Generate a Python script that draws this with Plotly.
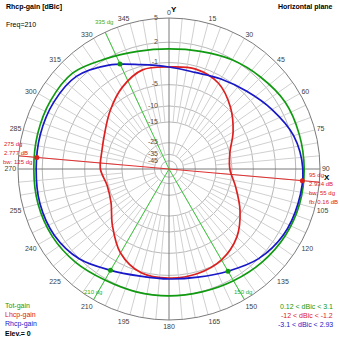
import numpy as np
import plotly.graph_objects as go

# ---- data (dBic) ----
theta = list(range(0, 360, 15))
tot_gain = [1.06, 1.3, 1.9, 2.4, 2.95, 3.05, 3.1, 3.1, 2.95, 2.65, 2.3, 2.05,
            2.0, 2.05, 2.2, 2.7, 3.05, 3.15, 3.1, 3.2, 3.3, 3.2, 2.05, 1.3]
lhcp_gain = [-1.73, -1.5, -2.25, -4.46, -7.24, -10.0, -10.6, -8.44, -5.48, -2.77, -1.24, -0.67,
             -0.59, -0.83, -2.6, -5.9, -8.95, -9.73, -8.54, -8.32, -7.24, -5.27, -3.14, -1.63]
rhcp_gain = [-1.73, -2.07, -1.4, -0.44, 0.91, 2.3, 2.93, 2.9, 2.7, 2.0, 0.77, -0.13,
             -0.44, -0.3, 0.62, 2.03, 2.75, 2.9, 2.8, 2.85, 2.85, 2.56, 1.06, -0.75]
ring_db = [5, 2, -1, -5, -10, -15, -25, -35, -45]
ring_labels = ["5", "2", "-1", "-5", "-10", "-15", "-25", "-35", "-45"]
angle_ticks = list(range(0, 360, 15))
bw_angles = [335, 210, 150]
max_angles = [275, 95]
max_values = [2.777, 2.934]

def arrl(db):
    return 0.89 ** ((5 - np.asarray(db, dtype=float)) / 2.0)

def closed(vals):
    return list(vals) + [vals[0]]

th_c = theta + [360]

W = H = 339
def px(x, y):
    return x / W, 1 - y / H

fig = go.Figure()

# spokes
sp_t, sp_r = [], []
for a in range(0, 360, 5):
    if a % 90 == 0:
        continue
    r0 = float(arrl(-35)) if a % 15 == 0 else float(arrl(-15))
    sp_t += [a, a, None]
    sp_r += [r0, 1.0, None]
fig.add_trace(go.Scatterpolar(r=sp_r, theta=sp_t, mode='lines',
                              line=dict(color='#d0d0d0', width=1), hoverinfo='skip'))
# main axes
fig.add_trace(go.Scatterpolar(r=[1, 0, 1, None, 1, 0, 1], theta=[0, 0, 180, None, 90, 90, 270],
                              mode='lines', line=dict(color='#7a7a7a', width=1), hoverinfo='skip'))

# beamwidth lines (green) and max lines (red)
g_t, g_r = [], []
for a in bw_angles:
    g_t += [a, a, None]
    g_r += [0, 1, None]
fig.add_trace(go.Scatterpolar(r=g_r, theta=g_t, mode='lines',
                              line=dict(color='#3cc83c', width=1), hoverinfo='skip'))
r_t, r_r = [], []
for a in max_angles:
    r_t += [a, a, None]
    r_r += [0, 1, None]
fig.add_trace(go.Scatterpolar(r=r_r, theta=r_t, mode='lines',
                              line=dict(color='#e03030', width=1), hoverinfo='skip'))

# curves
for vals, col in [(tot_gain, '#109a10'), (lhcp_gain, '#dd2020'), (rhcp_gain, '#1818c8')]:
    fig.add_trace(go.Scatterpolar(r=arrl(closed(vals)), theta=th_c, mode='lines',
                                  line=dict(color=col, width=1.7, shape='spline', smoothing=1),
                                  hoverinfo='skip'))

# markers
bw_vals = np.interp(bw_angles, th_c, closed(rhcp_gain))
fig.add_trace(go.Scatterpolar(r=arrl(bw_vals), theta=bw_angles, mode='markers',
                              marker=dict(color='#109a10', size=5), hoverinfo='skip'))
fig.add_trace(go.Scatterpolar(r=arrl(max_values), theta=max_angles, mode='markers',
                              marker=dict(color='#dd2020', size=5), hoverinfo='skip'))

# radial labels
fig.add_trace(go.Scatterpolar(r=arrl(ring_db), theta=[0] * len(ring_db), mode='markers+text',
                              text=ring_labels, textposition='middle left',
                              marker=dict(size=16, opacity=0),
                              textfont=dict(size=7, color='#505050', family='Liberation Sans'),
                              hoverinfo='skip'))

fig.update_layout(
    width=W, height=H, margin=dict(l=0, r=0, t=0, b=0),
    paper_bgcolor='white', showlegend=False,
    font=dict(family='Liberation Sans', size=7, color='#404040'),
    polar=dict(
        domain=dict(x=[18 / W, 320 / W], y=[1 - 320 / H, 1 - 18 / H]),
        bgcolor='white',
        angularaxis=dict(rotation=90, direction='clockwise', tickmode='array',
                         tickvals=angle_ticks, ticktext=[str(a) for a in angle_ticks],
                         showgrid=False, showline=True, linecolor='#7a7a7a', linewidth=1,
                         ticks='', tickfont=dict(size=7, color='#404040')),
        radialaxis=dict(range=[0, 1], showticklabels=False, ticks='', showline=False,
                        showgrid=True, tickmode='array', tickvals=list(arrl(ring_db[1:])),
                        gridcolor='#b8b8b8', gridwidth=1),
    ),
)

anns = [
    (4, 7, "<b>Rhcp-gain [dBic]</b>", 'left', '#000000', 7),
    (4, 25, "Freq=210", 'left', '#000000', 7),
    (335, 7, "<b>Horizontal plane</b>", 'right', '#000000', 7),
    (3, 306, "Tot-gain", 'left', '#109a10', 7),
    (3, 315, "Lhcp-gain", 'left', '#dd2020', 7),
    (3, 324, "Rhcp-gain", 'left', '#1818c8', 7),
    (3, 333, "<b>Elev.= 0</b>", 'left', '#000000', 7),
    (335, 306, "0.12 &lt; dBic &lt; 3.1", 'right', '#109a10', 7),
    (335, 315, "-12 &lt; dBic &lt; -1.2", 'right', '#dd2020', 7),
    (335, 324, "-3.1 &lt; dBic &lt; 2.93", 'right', '#1818c8', 7),
    (174, 9, "<b>Y</b>", 'center', '#000000', 8),
    (327, 177, "<b>X</b>", 'center', '#000000', 8),
    (93, 22, "335 dg", 'left', '#30b030', 6),
    (82, 292, "210 dg", 'left', '#30b030', 6),
    (232, 292, "150 dg", 'left', '#30b030', 6),
    (2, 144, "275 dg", 'left', '#dd2020', 6),
    (2, 153, "2.777 dB", 'left', '#dd2020', 6),
    (1, 161.5, "bw: 125 dg", 'left', '#dd2020', 6),
    (307, 175, "95 dg", 'left', '#dd2020', 6),
    (307, 184, "2.934 dB", 'left', '#dd2020', 6),
    (307, 193, "bw: 55 dg", 'left', '#dd2020', 6),
    (307, 202, "fb: 0.16 dB", 'left', '#dd2020', 6),
]
for x, y, t, anc, col, sz in anns:
    ax, ay = px(x, y)
    fig.add_annotation(x=ax, y=ay, xref='paper', yref='paper', text=t, showarrow=False,
                       xanchor=anc, yanchor='middle',
                       font=dict(size=sz, color=col, family='Liberation Sans'))

fig.write_html("out.html", config={'displayModeBar': False})
